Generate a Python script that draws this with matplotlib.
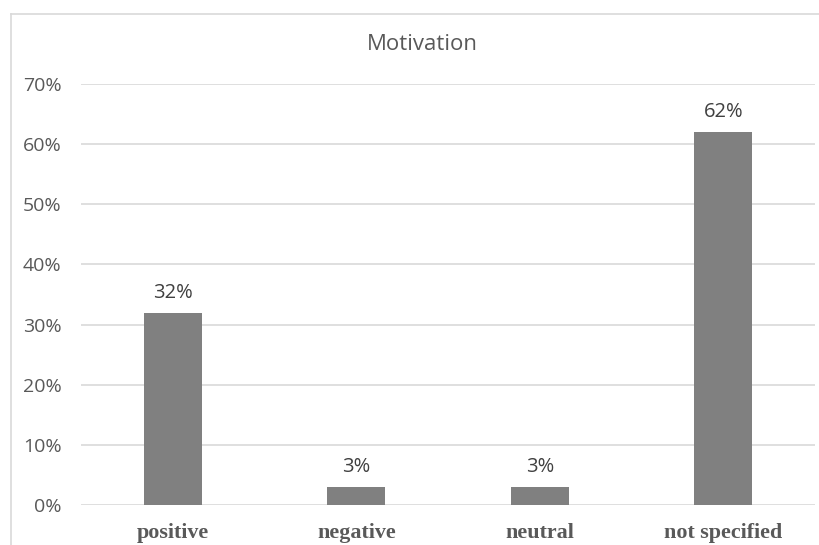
import matplotlib
matplotlib.use("Agg")
import matplotlib.pyplot as plt
from matplotlib.lines import Line2D

# === Data ===
categories = ["positive", "negative", "neutral", "not specified"]
shares = [0.32, 0.03, 0.03, 0.62]
y_ticks = [0.0, 0.1, 0.2, 0.3, 0.4, 0.5, 0.6, 0.7]

W, H = 820, 545
fig = plt.figure(figsize=(W / 100, H / 100), dpi=100)
fig.patch.set_facecolor("white")

# plot area in pixel coords of the reference
ax = fig.add_axes([81 / W, 1 - 505 / H, (815 - 81) / W, (505 - 84) / H])

x = range(len(categories))
bars = ax.bar(x, shares, width=0.316, color="#808080", zorder=3)

ax.set_xlim(-0.5, len(categories) - 0.5)
ax.set_ylim(0, 0.7)
ax.set_yticks(y_ticks)
ax.set_yticklabels([f"{int(round(v * 100))}%" for v in y_ticks],
                   fontfamily="Open Sans", fontsize=14, color="#595959")
ax.set_xticks(list(x))
ax.set_xticklabels(categories, fontfamily="Liberation Serif", fontweight="bold",
                   fontsize=15.8, color="#595959")
ax.tick_params(axis="both", length=0)
ax.tick_params(axis="y", pad=14)
ax.tick_params(axis="x", pad=13)

ax.grid(axis="y", color="#d9d9d9", linewidth=1.2, zorder=0)
for s in ax.spines.values():
    s.set_visible(False)

# data labels
for b, v in zip(bars, shares):
    ax.annotate(f"{int(round(v * 100))}%", (b.get_x() + b.get_width() / 2, v),
                xytext=(0, 7), textcoords="offset points", ha="center", va="bottom",
                fontfamily="Open Sans", fontsize=14.5, color="#404040")

# title
fig.text(422 / W, 1 - 45 / H, "Motivation", ha="center", va="center",
         fontfamily="Open Sans", fontsize=16, color="#595959")

# chart border (cut off at right and bottom)
bx, by = 11 / W, 1 - 14 / H
fig.add_artist(Line2D([bx, bx], [0, by], transform=fig.transFigure,
                      color="#d9d9d9", linewidth=1.2))
fig.add_artist(Line2D([bx, 1], [by, by], transform=fig.transFigure,
                      color="#d9d9d9", linewidth=1.2))

fig.savefig("out.png", dpi=100)
